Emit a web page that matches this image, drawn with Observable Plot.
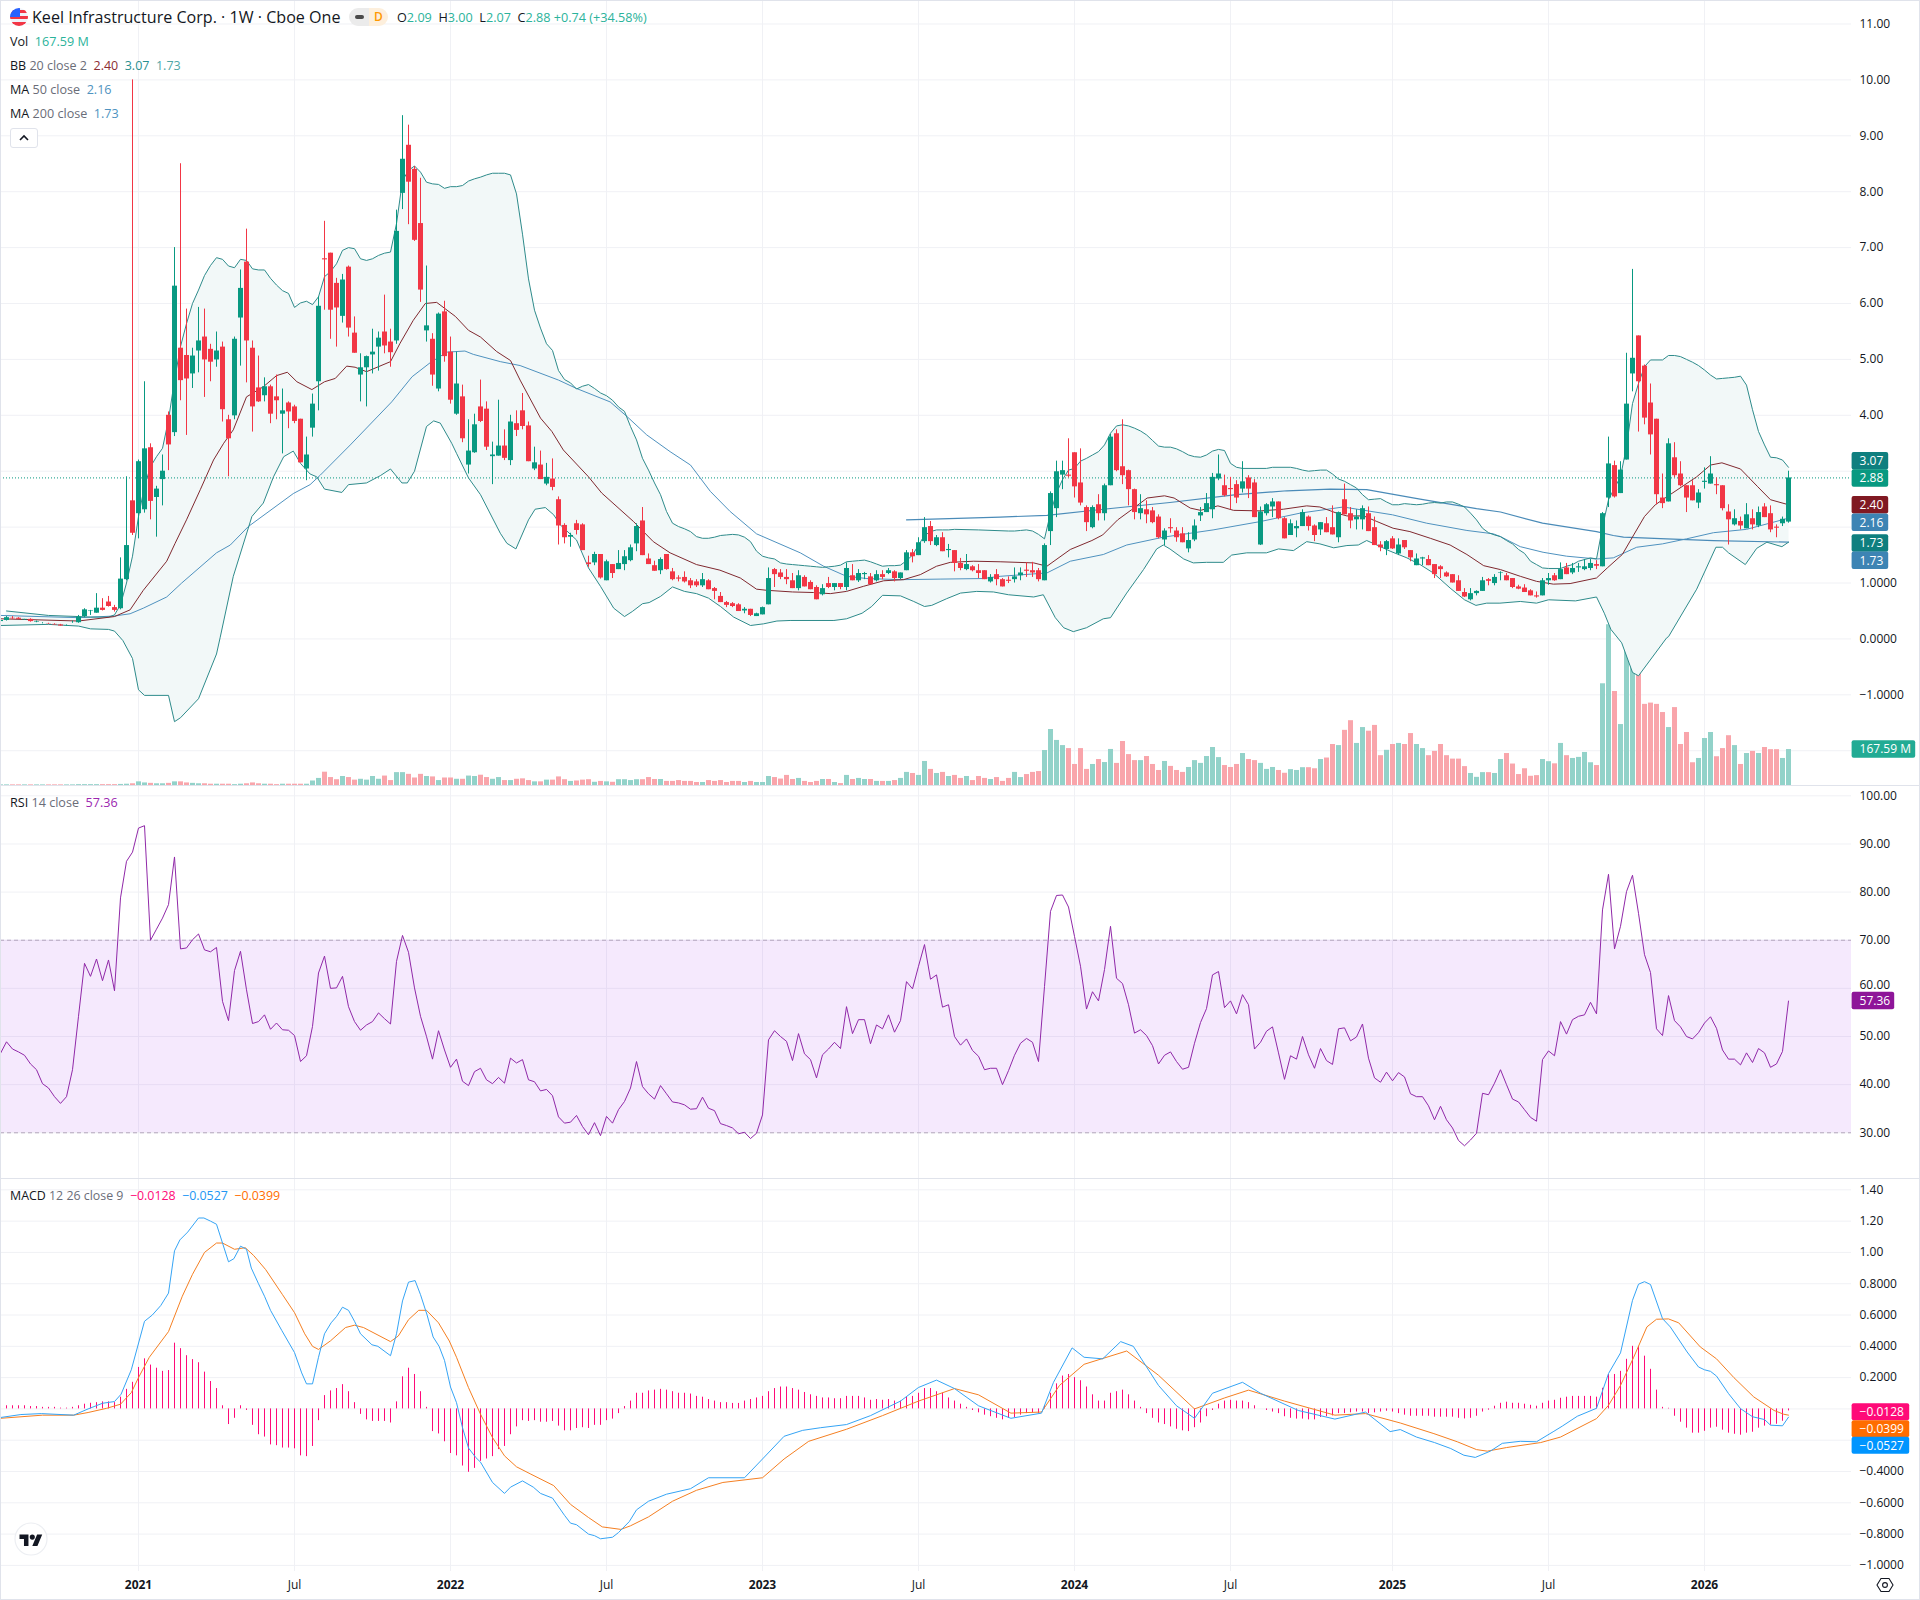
<!DOCTYPE html>
<html><head><meta charset="utf-8">
<script src="https://cdn.jsdelivr.net/npm/d3@7"></script>
<script src="https://cdn.jsdelivr.net/npm/@observablehq/plot@0.6"></script>
<style>
html,body{margin:0;padding:0;background:#fff}
#chart{position:relative;width:1920px;height:1600px;overflow:hidden;font-family:"Open Sans",sans-serif;color:#131722;background:#fff}
#chart svg.plot{position:absolute;left:0}
.t{position:absolute;white-space:pre;font-size:12.6px;line-height:16px;color:#131722}
.g{color:#6a6d78}
.sep{position:absolute;left:0;width:1920px;height:1px;background:#e0e3eb}
</style></head><body><div id="chart"></div>
<script>
// week index 0 = first bar of 2021; the first bar shown is index -23
const firstWeek = -23;
const opens = [
.31,.33,.37,.37,.34,.35,.30,.28,.27,.26,
.25,.235,.29,.29,.40,.49,.46,.55,.66,.56,
.54,1.06,2.47,2.24,2.31,3.42,2.53,2.85,4.0,3.69,
5.2,5.07,4.74,5.15,5.4,5.18,4.99,5.22,3.92,3.99,
5.74,6.74,5.2,4.49,4.35,4.51,4.33,4.02,4.22,4.15,
3.93,3.04,3.77,4.6,6.8,6.9,6.36,5.77,6.65,5.47,
4.72,4.85,5.08,5.22,5.49,5.31,5.33,7.97,8.83,8.4,
7.43,5.51,5.36,4.47,5.85,5.13,4.02,4.33,3.11,3.33,
4.15,4.11,3.26,3.27,3.45,3.19,3.85,4.08,3.81,3.04,
3.11,2.77,2.86,2.49,2.03,1.82,2.06,2.04,1.36,1.36,
1.51,1.04,1.33,1.24,1.33,1.4,1.7,2.11,1.43,1.31,
1.22,1.51,1.2,1.09,1.1,1.04,1.02,.95,1.04,.9,
.76,.65,.63,.61,.5,.53,.4,.43,.61,1.24,
1.18,1.1,1.04,.9,1.1,1.01,.92,.79,.99,.92,
.99,.92,1.13,1.04,1.15,1.11,1.04,1.15,1.17,1.2,
1.08,1.22,1.54,1.49,1.74,2.01,1.67,1.81,1.58,1.58,
1.35,1.24,1.29,1.22,1.22,1.02,1.15,1.06,1.05,1.06,
1.13,1.23,1.22,1.22,1.04,1.92,2.33,2.93,2.93,3.33,
2.79,2.35,1.99,2.4,2.24,2.74,3.67,3.08,3.01,2.67,
2.24,2.31,2.29,2.18,1.77,1.99,1.93,1.88,1.61,1.77,
2.2,2.26,2.31,2.86,2.74,2.69,2.76,2.68,2.88,2.79,
1.68,2.24,2.36,2.45,2.15,1.85,1.97,2.01,2.18,2.02,
1.95,2.06,1.99,1.81,2.49,2.24,2.13,2.13,2.24,1.99,
1.68,1.6,1.79,1.52,1.76,1.58,1.31,1.43,1.42,1.33,
1.29,1.18,1.15,1.04,.83,.7,.81,.85,1.06,.99,
1.17,1.13,1.08,.93,.91,.86,.77,.77,1.04,1.13,
1.06,1.27,1.18,1.27,1.24,1.26,1.33,1.29,2.52,3.1,
2.6,3.2,4.74,5.42,4.88,4.22,3.93,2.52,2.45,3.24,
2.95,2.74,2.74,2.43,2.8,2.77,2.76,2.74,2.27,2.04,
2.1,1.97,2.15,2.02,2.36,2.24,2.0,2.06,2.09];
const highs = [
.33,.40,.40,.38,.35,.36,.32,.29,.28,.27,
.26,.25,.32,.42,.54,.51,.81,.72,.76,.60,
1.45,2.90,10.0,3.2,4.6,3.49,2.73,3.29,4.06,7.0,
8.5,5.9,5.2,5.93,5.9,5.27,5.49,5.31,4.0,5.4,
6.6,7.33,5.33,5.06,4.67,4.54,4.72,4.47,4.24,4.18,
3.93,3.61,4.38,6.12,7.47,6.9,6.45,6.52,6.67,5.76,
5.1,5.06,5.54,5.49,6.15,5.54,7.67,9.36,9.19,8.45,
8.24,6.67,5.46,5.83,6.04,5.4,5.13,4.54,3.92,4.02,
4.63,4.24,3.52,4.27,3.74,4.0,4.08,4.39,3.88,3.43,
3.36,3.14,3.22,2.54,2.06,1.89,2.12,2.06,1.48,1.55,
1.51,1.41,1.33,1.58,1.58,1.68,2.06,2.35,1.52,1.39,
1.45,1.51,1.26,1.13,1.2,1.08,1.06,1.17,1.06,.92,
.83,.67,.65,.63,.56,.53,.46,.57,1.27,1.26,
1.24,1.24,1.17,1.22,1.13,1.04,.95,.97,1.1,.99,
.99,1.36,1.33,1.24,1.19,1.17,1.22,1.22,1.26,1.22,
1.18,1.58,1.6,1.81,2.17,2.1,1.85,1.9,1.69,1.58,
1.44,1.51,1.31,1.33,1.22,1.15,1.24,1.08,1.11,1.27,
1.27,1.36,1.37,1.26,1.7,2.63,3.18,3.18,3.58,3.33,
3.4,2.38,2.38,2.58,2.77,3.66,3.74,3.92,3.02,2.68,
2.58,2.47,2.35,2.22,1.97,2.15,1.99,1.99,1.9,2.13,
2.35,2.6,2.96,3.29,2.93,2.89,2.83,3.17,2.92,2.85,
2.36,2.42,2.51,2.45,2.17,2.13,2.11,2.31,2.2,2.04,
2.08,2.17,2.38,2.27,2.77,2.35,2.31,2.38,2.36,2.18,
1.74,1.76,1.83,1.79,1.76,1.58,1.52,1.46,1.49,1.33,
1.31,1.2,1.15,1.13,.9,.9,.86,1.1,1.08,1.15,
1.2,1.17,1.08,.96,.97,.88,.84,1.08,1.17,1.17,
1.36,1.35,1.35,1.35,1.42,1.42,1.4,2.26,3.61,3.18,
3.17,5.11,6.61,5.42,4.9,4.56,3.93,2.95,3.58,3.51,
3.17,2.74,2.83,2.67,3.06,3.26,2.88,2.74,2.4,2.31,
2.18,2.42,2.31,2.36,2.42,2.38,2.04,2.18,3.0];
const lows = [
.30,.32,.35,.35,.33,.30,.29,.27,.26,.25,
.23,.23,.28,.28,.38,.42,.46,.50,.57,.48,
.52,1.04,1.85,1.79,2.25,2.13,1.82,2.38,3.01,3.62,
4.26,3.64,4.48,4.76,4.32,4.6,4.86,3.88,2.9,3.92,
4.88,4.58,3.7,4.23,4.24,3.85,3.92,3.31,3.76,3.85,
3.15,2.83,3.61,4.08,5.88,5.36,5.22,5.65,5.4,5.11,
4.24,4.15,4.74,4.79,5.1,4.86,5.27,7.68,7.41,7.11,
6.02,5.31,4.52,4.42,4.95,4.2,4.0,3.51,2.95,3.32,
3.87,3.37,2.76,3.27,3.19,3.1,3.62,3.74,3.17,3.01,
2.85,2.74,2.65,1.68,1.7,1.64,1.86,1.58,1.28,1.31,
1.07,1.04,1.08,1.24,1.22,1.38,1.56,1.49,1.33,1.21,
1.15,1.23,1.04,1.02,1.0,.9,.92,.92,.88,.7,
.65,.56,.56,.49,.45,.4,.4,.43,.61,.92,
1.06,.97,.9,.86,.93,.88,.7,.77,.9,.86,
.88,.86,1.04,1.01,1.06,.97,1.02,1.06,1.15,1.02,
1.06,1.22,1.36,1.49,1.71,1.67,1.65,1.56,1.45,1.2,
1.22,1.22,1.2,1.08,1.06,1.0,.95,.93,.99,1.0,
1.04,1.1,1.1,1.02,1.04,1.67,2.17,2.67,2.88,2.52,
2.38,1.92,1.97,2.11,2.11,2.74,2.99,2.76,2.38,2.13,
2.13,2.06,2.06,1.79,1.67,1.89,1.73,1.72,1.54,1.74,
2.1,2.26,2.15,2.83,2.54,2.31,2.42,2.61,2.51,2.17,
1.67,2.2,2.17,2.13,1.79,1.85,1.81,2.01,1.93,1.74,
1.85,1.9,1.86,1.72,2.22,1.97,1.95,1.95,1.92,1.67,
1.56,1.49,1.6,1.49,1.6,1.38,1.31,1.31,1.31,1.08,
1.08,1.1,1.0,.85,.74,.68,.77,.85,.95,.95,
1.04,1.04,.9,.88,.83,.77,.73,.77,.96,1.03,
1.06,1.15,1.15,1.19,1.22,1.22,1.24,1.29,2.35,2.52,
2.6,3.2,4.42,3.7,3.83,3.29,2.4,2.33,2.45,2.88,
2.72,2.26,2.47,2.33,2.68,2.77,2.58,2.29,1.68,2.02,
1.95,1.97,1.95,1.99,2.17,1.9,1.81,2.01,2.07];
const closes = [
.33,.38,.36,.35,.35,.31,.31,.28,.265,.25,
.23,.24,.29,.39,.52,.50,.55,.51,.58,.51,
1.07,1.67,1.89,3.17,3.40,2.46,2.68,3.0,3.47,6.31,
4.62,4.65,5.06,5.33,4.99,4.95,5.15,4.1,3.58,5.36,
6.27,5.33,4.15,4.24,4.51,4.02,4.26,4.08,4.06,3.89,
3.15,3.29,4.2,5.95,6.78,5.88,5.92,6.42,5.56,5.11,
4.85,5.05,5.13,5.38,5.24,5.12,7.29,8.58,8.17,7.13,
6.24,5.6,4.72,5.81,5.05,4.27,4.56,3.58,3.36,3.83,
3.89,3.43,3.29,3.45,3.23,3.88,3.73,3.8,3.17,3.15,
2.85,2.89,2.71,2.02,1.81,1.85,1.94,1.58,1.33,1.51,
1.09,1.38,1.17,1.35,1.47,1.63,2.01,1.49,1.33,1.21,
1.42,1.24,1.06,1.07,1.02,.95,.95,1.06,.88,.85,
.65,.6,.58,.49,.53,.42,.45,.56,1.08,1.15,
1.1,1.06,.9,1.13,.93,.88,.7,.9,.92,.99,
.92,1.26,1.04,1.17,1.17,.97,1.15,1.1,1.22,1.08,
1.18,1.54,1.47,1.72,1.99,1.74,1.81,1.56,1.6,1.35,
1.26,1.33,1.22,1.17,1.06,1.1,1.06,.93,1.03,1.11,
1.18,1.21,1.18,1.06,1.67,2.6,2.99,3.01,2.91,2.72,
2.43,2.08,2.35,2.24,2.74,3.61,3.01,2.92,2.67,2.26,
2.33,2.22,2.08,1.81,1.93,1.97,1.81,1.72,1.76,2.02,
2.26,2.42,2.89,2.95,2.56,2.67,2.52,2.81,2.68,2.17,
2.27,2.4,2.45,2.15,1.79,2.06,2.01,2.26,2.01,1.85,
2.08,1.9,1.86,2.26,2.22,2.11,2.18,2.33,1.92,1.67,
1.63,1.74,1.61,1.68,1.63,1.45,1.43,1.45,1.31,1.15,
1.24,1.11,1.0,.85,.75,.81,.85,1.04,1.03,1.1,
1.18,1.04,.92,.89,.83,.77,.75,1.04,1.08,1.04,
1.24,1.15,1.26,1.29,1.29,1.35,1.3,2.24,3.13,2.54,
3.02,4.2,5.02,4.6,3.95,3.65,2.58,2.42,3.49,2.92,
2.74,2.52,2.47,2.61,2.82,2.95,2.74,2.33,2.13,2.15,
2.02,2.22,2.04,2.26,2.17,1.95,1.98,2.14,2.88];
const volumes = [ // millions
3,3,3,3,3,3,3,3,3,3,
3,3,3,4,4,4,4,4,4,4,
5,6,8,17,12,10,8,8,10,17,
17,12,10,8,8,6,6,6,6,4,
6,8,12,8,6,6,4,6,6,6,
6,6,21,33,62,37,27,42,37,25,
29,25,42,29,44,23,60,60,52,35,
52,42,40,23,35,35,29,29,44,42,
48,37,29,37,23,23,29,31,23,17,
17,25,25,40,27,19,21,25,27,15,
19,17,15,27,27,23,27,27,37,28,
28,19,19,23,19,19,14,14,23,19,
23,14,19,19,14,19,14,14,42,37,
30,47,28,33,19,14,19,28,28,14,
9,47,28,33,28,28,19,19,19,23,
33,61,56,47,112,75,56,61,42,47,
33,42,23,42,33,28,37,19,33,61,
37,51,61,65,163,261,210,186,172,98,
172,75,98,121,107,168,103,205,144,116,
116,135,98,70,112,89,70,61,84,116,
103,135,177,130,93,84,98,149,121,116,
103,75,84,70,57,74,70,83,83,78,
121,128,191,186,257,302,196,270,253,280,
139,164,191,196,191,242,191,172,139,159,
191,139,123,123,88,56,38,60,60,56,
121,149,100,51,78,43,46,121,111,101,
196,139,126,131,154,106,93,474,749,438,
284,662,914,564,378,384,378,340,270,363,
191,247,106,126,219,247,134,172,232,186,
98,149,159,149,177,167,167,126,167.59];
const bbUpper = [[-22,.5],[-15,.42],[-10,.4],[-8,.39],[-5,.39],[-4,.43],[-3,.61],[-2,1],[-1,1.48],[0,2.19],[1,2.73],[2,3.08],[3,3.26],[4,3.41],[5,3.92],[6,4.63],[7,5.23],[8,5.64],[9,6],[10,6.24],[11,6.5],[12,6.68],[13,6.82],[14,6.79],[15,6.67],[16,6.64],[17,6.79],[18,6.77],[19,6.62],[20,6.6],[21,6.6],[22,6.45],[23,6.33],[24,6.23],[25,6.18],[26,5.93],[27,6.01],[28,6.04],[29,5.98],[30,6.12],[31,6.48],[32,6.57],[33,6.71],[34,6.95],[35,7],[36,6.98],[37,6.8],[38,6.77],[39,6.8],[40,6.86],[41,6.9],[42,6.92],[43,7.43],[44,8.2],[45,8.38],[46,8.46],[47,8.35],[48,8.17],[49,8.14],[50,8.13],[51,8.06],[52,8.09],[53,8.09],[54,8.11],[55,8.19],[56,8.23],[57,8.26],[58,8.3],[59,8.33],[60,8.33],[61,8.33],[62,8.3],[63,7.96],[64,7.24],[65,6.44],[66,5.88],[67,5.56],[68,5.28],[69,5.16],[70,4.8],[71,4.64],[72,4.58],[73,4.47],[74,4.52],[75,4.55],[76,4.48],[77,4.4],[78,4.35],[79,4.27],[80,4.15],[81,4.07],[82,3.8],[83,3.56],[84,3.23],[85,3.02],[86,2.79],[87,2.58],[88,2.28],[89,2.07],[90,2.01],[91,1.97],[92,1.92],[93,1.83],[94,1.8],[95,1.8],[96,1.82],[97,1.85],[98,1.86],[99,1.87],[100,1.86],[101,1.82],[102,1.74],[103,1.57],[104,1.48],[105,1.45],[106,1.43],[107,1.36],[108,1.34],[109,1.33],[110,1.32],[111,1.31],[112,1.3],[113,1.29],[114,1.28],[115,1.29],[116,1.3],[117,1.32],[118,1.38],[119,1.39],[120,1.4],[121,1.41],[122,1.38],[123,1.34],[124,1.3],[125,1.31],[126,1.31],[127,1.32],[128,1.4],[129,1.5],[130,1.68],[131,1.85],[132,1.92],[133,1.95],[134,1.95],[135,1.95],[136,1.96],[140,1.95],[145,1.93],[146,1.93],[147,1.94],[148,1.95],[149,1.93],[150,1.87],[151,1.79],[152,2.25],[153,2.61],[154,2.85],[155,3.02],[156,3.05],[157,3.18],[158,3.23],[159,3.29],[160,3.35],[161,3.47],[162,3.68],[163,3.81],[164,3.83],[165,3.81],[166,3.77],[167,3.72],[168,3.65],[169,3.55],[170,3.45],[171,3.43],[172,3.43],[173,3.4],[174,3.35],[175,3.29],[176,3.26],[177,3.25],[178,3.29],[179,3.36],[180,3.39],[181,3.37],[182,3.14],[183,3.07],[184,3.05],[188,3.05],[189,3.07],[192,3.07],[193,3.05],[194,3.02],[195,3],[196,3.01],[197,3.02],[198,3.02],[199,2.95],[200,2.86],[201,2.82],[202,2.76],[203,2.7],[204,2.58],[205,2.49],[206,2.5],[207,2.51],[208,2.45],[209,2.4],[210,2.4],[211,2.42],[212,2.41],[213,2.4],[214,2.41],[215,2.43],[216,2.44],[217,2.43],[218,2.45],[219,2.45],[220,2.41],[221,2.36],[222,2.25],[223,2.13],[224,1.98],[225,1.9],[226,1.86],[227,1.83],[228,1.76],[229,1.7],[230,1.6],[231,1.53],[232,1.39],[233,1.33],[234,1.27],[235,1.26],[237,1.26],[238,1.3],[239,1.33],[240,1.39],[241,1.42],[242,1.45],[243,1.43],[244,2],[245,2.49],[246,2.7],[247,2.9],[248,3.44],[249,4.21],[250,4.57],[251,4.87],[252,4.99],[254,4.99],[255,5.07],[256,5.07],[257,5.05],[258,5],[259,4.95],[260,4.89],[261,4.81],[262,4.72],[263,4.65],[264,4.66],[265,4.67],[266,4.68],[267,4.7],[268,4.54],[269,4.1],[270,3.71],[271,3.47],[272,3.25],[273,3.24],[274,3.2],[275,3.07]];
const bbBasis = [[-23,.36],[-10,.32],[-4,.4],[-1.4,.52],[.8,.87],[4.7,1.39],[6.1,1.71],[8,2.13],[10.3,2.67],[12.5,3.2],[14.2,3.5],[15.8,3.74],[18,4.33],[20.8,4.51],[23,4.71],[24.8,4.77],[26.4,4.6],[28.9,4.46],[31,4.6],[32.8,4.66],[34.7,4.88],[36.1,4.86],[38,4.78],[42,4.96],[43.6,5.29],[45.8,5.7],[47.8,6],[49.7,6.02],[52.8,5.77],[55,5.52],[57,5.4],[59.7,5.14],[62,4.98],[63.6,4.63],[67,3.95],[68.9,3.71],[70.8,3.38],[75,2.9],[77.2,2.61],[82.5,2.1],[85.8,1.74],[88.6,1.54],[93,1.33],[96.9,1.23],[100.3,1.09],[103,.89],[104.7,.87],[109,.84],[112.5,.83],[115.3,.81],[118,.85],[120.8,.94],[124.2,1.04],[127.5,1.06],[130.3,1.15],[133,1.3],[135.3,1.37],[139.2,1.39],[143.6,1.38],[149.2,1.36],[151.4,1.3],[155.3,1.6],[158.9,1.76],[160.7,1.86],[163.2,2.13],[165.5,2.31],[168.1,2.52],[171,2.56],[172.6,2.52],[175.3,2.34],[177,2.3],[179.9,2.38],[182.5,2.3],[187,2.29],[190.8,2.32],[194.7,2.38],[196.9,2.36],[199.7,2.25],[201.4,2.2],[204.2,2.2],[206.4,2.1],[209.1,1.98],[211.9,1.92],[215.3,1.8],[218.6,1.68],[221.4,1.51],[224.2,1.31],[227,1.24],[230.3,1.12],[233,1.03],[235.8,.98],[238.6,.99],[243,1.09],[244.8,1.27],[247.3,1.51],[249.2,1.86],[251,2.19],[252.8,2.4],[254.7,2.54],[259.7,2.9],[262,3.11],[263.9,3.15],[267,3.04],[269.8,2.73],[272,2.49],[275,2.4]];
const bbLower = [[-23,.24],[-15,.26],[-10,.23],[-8,.18],[-5,.17],[-4,.14],[-2.6,-.03],[-1,-.35],[0,-.91],[1,-1.01],[5,-1.01],[6,-1.48],[7,-1.41],[10,-1.07],[13,-.27],[13.6,.02],[15.8,1.12],[18.9,2.19],[20.8,2.43],[22.5,2.9],[24.2,3.26],[25.8,3.36],[27,3.14],[28.6,2.95],[29.7,2.9],[31,2.68],[33.9,2.62],[35,2.76],[38,2.79],[40.3,2.92],[42,3.04],[43.9,2.79],[44.8,2.79],[46,3],[48,3.8],[49.2,3.9],[50.3,3.86],[52.2,3.5],[53,3.32],[55,2.88],[57,2.58],[60.3,1.89],[61.4,1.71],[62.9,1.61],[65,2.13],[66.1,2.32],[67.8,2.35],[69.2,2.22],[70.3,2.04],[73,1.77],[75,1.27],[77,.94],[79.2,.55],[81,.4],[82.3,.49],[84,.63],[85.1,.65],[87,.76],[89,.93],[91,.85],[93,.81],[95,.73],[97,.58],[99.2,.39],[102,.24],[104.2,.27],[106.4,.32],[108.6,.33],[115.9,.33],[118,.36],[120.6,.46],[122.2,.58],[124,.78],[127,.77],[129.2,.67],[131,.58],[132.2,.6],[134.7,.72],[137,.82],[139.7,.85],[142.5,.84],[145,.79],[149.2,.75],[150.8,.79],[152.8,.38],[154.2,.2],[155.8,.13],[158,.2],[160.8,.36],[162,.38],[164.7,.82],[167.5,1.24],[169.7,1.61],[170.8,1.68],[171.9,1.61],[174.2,1.43],[175.8,1.36],[178,1.37],[180.8,1.37],[182.2,1.5],[184.7,1.54],[188,1.54],[190,1.61],[192.5,1.58],[194.7,1.74],[196.9,1.7],[199.2,1.63],[201.4,1.67],[203.3,1.68],[204.7,1.76],[206.4,1.68],[208.6,1.57],[211.4,1.45],[213.6,1.33],[215.8,1.18],[218.6,.91],[221,.7],[222.9,.6],[224.7,.64],[226.9,.64],[230.3,.67],[233,.64],[235,.7],[239.5,.68],[243,.75],[244.3,.46],[245.4,.17],[247.2,-.07],[249,-.6],[250,-.66],[254.7,.02],[255,.04],[259.7,.89],[262.9,1.64],[264,1.64],[265,1.54],[267.8,1.33],[269.7,1.62],[271.4,1.73],[273.9,1.65],[275,1.73]];
const ma50 = [[-23,.42],[-10,.38],[-4,.41],[-1.4,.45],[.8,.55],[4.7,.75],[7.2,1],[13,1.54],[15.3,1.68],[18.3,2.01],[25.8,2.6],[28.6,2.76],[30.3,2.93],[35.3,3.47],[42.2,4.24],[45.6,4.69],[48.6,4.94],[51.4,5.13],[54.4,5.15],[55.8,5.09],[60.3,4.96],[63.6,4.89],[70,4.63],[73,4.48],[78.6,4.24],[81.4,3.98],[84.7,3.65],[88.6,3.35],[92,3.11],[95.3,2.64],[98.6,2.28],[103,1.88],[110.3,1.54],[114.2,1.3],[118,1.12],[121.4,1.08],[127,1.06],[133.6,1.07],[140.8,1.08],[143.6,1.12],[151.4,1.18],[155.3,1.39],[160.8,1.51],[164.7,1.68],[170.8,1.82],[179.1,1.95],[187,2.1],[193.6,2.25],[200.8,2.36],[209,2.22],[214.7,2.07],[221.4,1.94],[225.8,1.88],[227,1.83],[230.3,1.65],[234.1,1.55],[238,1.48],[243,1.43],[245.8,1.45],[249.7,1.64],[254,1.7],[258,1.79],[262.5,1.9],[268,1.96],[275,2.16]];
const ma200 = [[128,2.13],[143.6,2.18],[151.4,2.21],[160.8,2.32],[171.9,2.44],[183,2.58],[191.4,2.65],[198.6,2.68],[204.7,2.67],[213.6,2.5],[223,2.33],[227,2.27],[234,2.07],[243,1.92],[245.8,1.85],[247.5,1.82],[254.7,1.79],[262.5,1.76],[275,1.73]];
const rsi = [
46.5,48.9,47.4,46.8,46.1,44.3,43.1,40.2,39.3,37.5,
36.1,37.5,43.1,54.2,65.2,62.5,66.1,61.6,65.9,59.5,
78.8,86.4,88.3,93.3,93.8,70,72.3,74.6,77.4,87.3,
68.2,68.4,70.1,71.3,68,67.6,68.5,57.3,53.3,63.7,
67.7,59.7,52.7,53.1,54.5,51.5,52.8,51.4,51.3,50.2,
44.8,46,52.1,63.2,66.7,60,60.1,62.5,56.2,53.1,
51.3,52.4,53.1,54.9,53.7,52.6,65.6,71,67.5,60.1,
54.2,50,45.3,51.2,47.2,43.6,45.3,40.7,39.8,42.7,
43.4,41,40.2,41.5,40.3,45.5,44.5,45.2,41,40.6,
38.7,39,37.7,33.3,32,32.2,33.6,31.3,29.6,32.1,
29.4,33.4,32,34.8,36.5,39.3,44.8,39.6,38.1,37,
39.8,38.1,36.4,36.2,35.8,34.9,35,37.4,35.1,34.6,
31.9,31.5,31,29.8,30.1,28.8,29.9,33.7,49.3,51.2,
50,49,45,50.6,46.4,45.2,41.4,46.2,47.4,48.8,
47.5,56.2,50.6,53.5,53.5,48.5,52.4,51.6,54.5,50.9,
53.3,61.4,59.9,64.6,69.1,61.9,62.8,56.1,56.6,50,
48.2,49.5,47.1,45.9,43.1,43.4,43.4,40,42.9,46.1,
48.6,49.6,48.8,44.8,60.4,76,79.3,79.4,76.9,70.8,
64.6,55.7,59.3,57.4,63.9,72.9,62.1,61,56.6,50.7,
51.4,50.2,48.1,44.3,46.1,46.8,44.8,43.2,43.6,48.6,
52.9,55.8,62.8,63.5,56,57.4,54.7,58.7,56.6,47.4,
48.8,51.1,52,46.6,41.1,46,45.3,50,46.2,43.4,
47.5,45,44.2,51.6,51.8,49.1,49.9,52.6,45.5,41.4,
40.5,42.6,40.8,42.5,41.6,38.1,37.5,37.5,35.6,32.7,
35.5,32.7,31,28.4,27.3,28.5,29.9,38.2,37.9,40.3,
43.1,40,37,36.4,34.8,33.2,32.4,45.2,47,46,
53.1,50.5,53.5,54.2,54.5,57.1,54.7,76.3,83.7,68.2,
72.9,80.1,83.5,75.6,67,63.3,51.6,50.2,58.5,53.3,
52,50,49.5,50.8,52.8,54.1,51.7,47.2,45.3,45.3,
44.1,46.6,44.6,47.5,46.6,43.6,44.3,46.9,57.36];
const macdHist = [
0,.02,.02,.02,.02,.015,.015,.01,.01,.01,
.005,.005,.01,.02,.03,.036,.04,.045,.045,.04,
.075,.125,.17,.265,.32,.28,.26,.24,.245,.42,
.385,.34,.315,.295,.235,.175,.13,.02,-.1,-.06,
.02,-.01,-.105,-.165,-.18,-.23,-.235,-.25,-.25,-.255,
-.3,-.305,-.24,-.075,.085,.115,.13,.155,.11,.04,
-.035,-.07,-.08,-.08,-.08,-.09,.045,.205,.26,.22,
.11,.01,-.145,-.16,-.21,-.285,-.3,-.365,-.405,-.38,
-.335,-.32,-.305,-.26,-.24,-.165,-.115,-.075,-.08,-.075,
-.085,-.085,-.08,-.11,-.14,-.14,-.125,-.12,-.125,-.105,
-.105,-.075,-.065,-.03,.015,.05,.1,.10,.115,.12,
.125,.12,.11,.1,.1,.095,.08,.075,.06,.05,
.04,.04,.035,.035,.05,.06,.07,.08,.11,.13,
.14,.14,.13,.12,.105,.09,.08,.07,.07,.065,
.065,.08,.08,.08,.07,.055,.06,.055,.06,.05,
.05,.075,.08,.1,.13,.13,.11,.1,.07,.05,
.03,.01,-.01,-.025,-.04,-.05,-.06,-.07,-.06,-.055,
-.04,-.03,-.025,-.03,.02,.1,.16,.21,.22,.2,
.18,.14,.09,.05,.05,.1,.11,.12,.09,.05,
.01,-.03,-.06,-.09,-.1,-.115,-.13,-.14,-.145,-.12,
-.09,-.05,-.01,.03,.05,.055,.05,.05,.04,.02,
0,-.01,-.02,-.03,-.05,-.06,-.065,-.065,-.07,-.07,
-.055,-.05,-.045,-.03,-.03,-.025,-.02,-.02,-.03,-.025,
-.02,-.015,-.02,-.03,-.04,-.047,-.047,-.047,-.047,-.053,
-.053,-.053,-.053,-.06,-.064,-.06,-.047,-.02,-.008,.017,
.036,.043,.036,.036,.03,.023,.017,.036,.05,.055,
.068,.075,.08,.08,.08,.08,.075,.132,.22,.22,
.24,.317,.4,.4,.337,.253,.12,.01,.004,-.047,
-.085,-.123,-.155,-.155,-.143,-.123,-.117,-.136,-.155,-.162,
-.168,-.155,-.149,-.123,-.11,-.104,-.098,-.079,-.0128];
const macdLine = [[-23,-.055],[-19.6,-.036],[-16.2,-.03],[-10.8,-.04],[-8.4,0],[-6,.036],[-4,.047],[-2.9,.094],[-1.2,.25],[1,.56],[2.3,.6],[3.7,.66],[5,.74],[6,1.01],[6.9,1.08],[8.2,1.13],[10,1.22],[10.9,1.22],[12,1.2],[13,1.18],[14,1.06],[15,.94],[15.9,.96],[17,1.04],[18,1.02],[18.8,.9],[20,.8],[21,.72],[22,.63],[23.9,.5],[26,.36],[27.2,.23],[28,.16],[29,.16],[30,.33],[31,.48],[32.1,.55],[33,.59],[34,.65],[35,.63],[36,.56],[37,.48],[38.9,.41],[39.9,.4],[42,.34],[43,.48],[44,.69],[45,.81],[46.1,.82],[47,.73],[48.1,.6],[49.1,.46],[50.1,.4],[51,.31],[52,.14],[53,.04],[54,-.12],[55,-.25],[56.2,-.31],[57,-.34],[59,-.47],[61,-.54],[62,-.5],[64,-.46],[65.8,-.5],[67,-.54],[69,-.57],[71,-.68],[72,-.73],[73,-.74],[75,-.8],[76,-.81],[77,-.83],[79,-.82],[80,-.79],[81.8,-.72],[83,-.645],[85,-.59],[88,-.545],[92,-.51],[95,-.44],[101,-.44],[104,-.32],[107.6,-.175],[110.7,-.137],[113.7,-.12],[118,-.1],[122,-.043],[127,.05],[130,.137],[133,.184],[136,.13],[140,.02],[145.4,-.06],[150.5,-.027],[152.5,.17],[155.6,.39],[157.6,.33],[160.7,.32],[163.7,.43],[165.8,.4],[170,.15],[173,.02],[176,-.06],[179,.1],[184,.17],[187,.1],[193.3,-.01],[199.4,-.065],[204.5,-.02],[208.6,-.145],[210.3,-.132],[213,-.18],[216,-.215],[218.7,-.253],[220.9,-.296],[222.8,-.31],[225.3,-.27],[227.3,-.22],[230.3,-.207],[233,-.21],[235.9,-.143],[237.3,-.11],[239.8,-.047],[243,.004],[245,.226],[247,.358],[249,.694],[250,.797],[251,.813],[252,.795],[254,.577],[255.3,.524],[258.1,.364],[260,.268],[261,.25],[262,.24],[263,.21],[265,.098],[267,.002],[269,-.05],[271,-.068],[272,-.104],[274,-.108],[275,-.0527]];
const macdSignal = [[-23,-.06],[-16,-.04],[-10.8,-.04],[-8.4,-.023],[-5.3,.004],[-3,.03],[-1.2,.104],[0,.2],[1.8,.33],[5,.494],[7.3,.72],[9,.86],[11,1],[13,1.06],[14,1.06],[16,1.02],[17.8,1.03],[19.2,.98],[21.2,.89],[24,.73],[26,.615],[27.7,.48],[29,.4],[30,.38],[32,.435],[34.5,.52],[36,.535],[37.5,.52],[42,.43],[43.3,.466],[45,.57],[46.7,.63],[48,.63],[50,.55],[51.8,.434],[53,.33],[55,.136],[57,-.034],[59,-.183],[61,-.3],[63,-.37],[65.4,-.417],[69.2,-.49],[72,-.61],[75,-.694],[77.3,-.754],[80.4,-.77],[82,-.747],[85,-.69],[89,-.59],[93,-.52],[97.4,-.47],[104,-.44],[107.6,-.32],[111.7,-.207],[118,-.13],[124,-.043],[130,.05],[136,.13],[140,.09],[145.4,-.027],[150.5,-.02],[153.5,.15],[157.6,.285],[164.7,.37],[170,.215],[176,0],[181,.07],[185,.12],[191,.05],[199.4,-.04],[204.5,-.03],[210.3,-.09],[215.9,-.158],[219.8,-.21],[223,-.26],[224.8,-.27],[228,-.247],[233.7,-.215],[237,-.18],[243,-.062],[245,.023],[247,.15],[249.2,.33],[251.4,.524],[253,.573],[255,.575],[256.7,.55],[260.3,.396],[263,.32],[265.9,.2],[269.2,.077],[272.6,-.01],[274.2,-.034],[275,-.0399]];
const gridWeeks = [0,26,52,78,104,130,156,182,209,235,261];
const yearWeeks = [0,52,104,156,209,261];
const yearLabels = ["2021","2022","2023","2024","2025","2026"];
const monthWeeks = [26,78,130,182,235];
const priceTicks = [11,10,9,8,7,6,5,4,3,2,1,0,-1,-2];
const priceLabels = [11,10,9,8,7,6,5,4,1,0,-1];   // 3, 2 and -2 sit under the value tags
const rsiTicks = [100,90,80,70,60,50,40,30];
const rsiLabels = [100,90,80,70,50,40,30];        // 60 sits under the 57.36 tag
const macdTicks = [1.4,1.2,1,.8,.6,.4,.2,0,-.2,-.4,-.6,-.8,-1];
const macdLabels = [1.4,1.2,1,.8,.6,.4,.2,-.4,-.6,-.8,-1]; // 0 and -0.2 sit under the tags

const UP="#089981", DOWN="#F23645", GRID="#f0f1f5", FONT='"Open Sans",sans-serif';
const xDomain=[-23,285.5], rightMargin=69;
const tagLeft=285.6, tagText=286.85;
const volumePerPrice=260.5, priceFloor=-2.622;
const minus=s=>s.replace("-","\u2212");
const longFmt=v=>minus(v.toFixed(4));

const bars = closes.map((c,i)=>({k:i+firstWeek,o:opens[i],h:highs[i],l:lows[i],c,v:volumes[i],rsi:rsi[i],hist:macdHist[i],up:c>=opens[i]}));
const base = {width:1920,marginLeft:0,marginRight:rightMargin,marginTop:0,marginBottom:0,
  x:{domain:xDomain,axis:null,label:null},
  style:{background:"transparent",fontFamily:FONT,fontSize:"12px",color:"#131722",overflow:"visible"}};
const grids = ()=>Plot.gridX(gridWeeks,{stroke:GRID,strokeOpacity:1});
const bodyL=d=>d.k-1/3, bodyR=d=>d.k+1/2;
const tagMarks = (tags,half)=>tags.flatMap(t=>[
  Plot.rect([t],{x1:tagLeft,x2:t.right,y1:t.value-half,y2:t.value+half,dy:t.shift,fill:t.color,rx:2}),
  Plot.text([t],{x:tagText,y:t.value,dy:t.shift,text:d=>d.label,textAnchor:"start",fill:"#fff",fontSize:12,fontFamily:FONT})
]);
const xy={x:d=>d[0],y:d=>d[1]};
const bbPoly=[...bbUpper,...bbLower.slice().reverse()];

const volValue=v=>priceFloor+v/volumePerPrice;
const priceTags=[
 {label:"3.07",value:3.07,shift:-6,color:"#0f7f7f",right:291.7},
 {label:"2.88",value:2.88,shift:0.6,color:UP,right:291.7},
 {label:"2.40",value:2.40,shift:0.5,color:"#801922",right:291.7},
 {label:"2.16",value:2.16,shift:4.5,color:"#3d84b4",right:291.7},
 {label:"1.73",value:1.73,shift:1.3,color:"#0f7f7f",right:291.7},
 {label:"1.73",value:1.73,shift:18.6,color:"#3d84b4",right:291.7},
 {label:"167.59 M",value:volValue(167.59),shift:0,color:"#22ab94",right:296.2}];

const pricePlot = Plot.plot({...base,height:785,
  y:{domain:[priceFloor,11.42],axis:null,label:null},
  marks:[
    grids(),
    Plot.gridY(priceTicks,{stroke:GRID,strokeOpacity:1}),
    Plot.axisY(priceLabels,{anchor:"right",tickSize:0,tickPadding:8,fill:"#131722",fontSize:12,label:null,tickFormat:v=>v>=2?v.toFixed(2):longFmt(v)}),
    Plot.rect(bars,{x1:bodyL,x2:bodyR,y1:priceFloor,y2:d=>volValue(d.v),fill:d=>d.up?"#92d2c9":"#f9a5ab"}),
    Plot.line(bbPoly,{...xy,fill:"#f2f8f8",stroke:"none"}),
    Plot.ruleY([2.88],{stroke:UP,strokeDasharray:"1,2",strokeWidth:1}),
    Plot.line(ma200,{...xy,stroke:"#4a8bb8",strokeWidth:1.2}),
    Plot.line(ma50,{...xy,stroke:"#4f92bf",strokeWidth:1}),
    Plot.line(bbUpper,{...xy,stroke:"#2e8b8b",strokeWidth:1}),
    Plot.line(bbLower,{...xy,stroke:"#2e8b8b",strokeWidth:1}),
    Plot.line(bbBasis,{...xy,stroke:"#80292f",strokeWidth:1}),
    Plot.ruleX(bars,{x:"k",y1:"l",y2:"h",stroke:d=>d.up?UP:DOWN,strokeWidth:1}),
    Plot.rect(bars,{x1:bodyL,x2:bodyR,y1:"o",y2:"c",fill:d=>d.up?UP:DOWN}),
    ...tagMarks(priceTags,.1565)
  ]});

const rsiPlot = Plot.plot({...base,height:392,
  y:{domain:[20.5,101.94],axis:null,label:null},
  marks:[
    grids(),
    Plot.gridY(rsiTicks,{stroke:GRID,strokeOpacity:1}),
    Plot.rect([{a:30,b:70}],{x1:xDomain[0],x2:xDomain[1],y1:"a",y2:"b",fill:"#9c27f0",fillOpacity:.1}),
    Plot.ruleY([70,30],{stroke:"#b4a6bd",strokeDasharray:"4,3",strokeWidth:1}),
    Plot.axisY(rsiLabels,{anchor:"right",tickSize:0,tickPadding:8,fill:"#131722",fontSize:12,label:null,tickFormat:v=>v.toFixed(2)}),
    Plot.line(bars,{x:"k",y:"rsi",stroke:"#9028a8",strokeWidth:1}),
    ...tagMarks([{label:"57.36",value:57.36,shift:0,color:"#8e1599",right:292.7}],1.82),
    // the 60.00 label shows above the tag in the reference, so it is nudged clear of it
    Plot.axisY([60],{anchor:"right",tickSize:0,tickPadding:8,dy:-3,fill:"#131722",fontSize:12,label:null,tickFormat:v=>v.toFixed(2)})
  ]});

const macdPlot = Plot.plot({...base,height:392,
  y:{domain:[-1.039,1.466],axis:null,label:null},
  marks:[
    grids(),
    Plot.gridY(macdTicks,{stroke:GRID,strokeOpacity:1}),
    Plot.axisY(macdLabels,{anchor:"right",tickSize:0,tickPadding:8,fill:"#131722",fontSize:12,label:null,tickFormat:v=>v>=1?v.toFixed(2):longFmt(v)}),
    Plot.ruleX(bars,{x:"k",y1:0,y2:"hist",stroke:"#ff0a78",strokeWidth:1}),
    Plot.line(macdSignal,{...xy,stroke:"#f57f22",strokeWidth:1}),
    Plot.line(macdLine,{...xy,stroke:"#35a4f5",strokeWidth:1}),
    ...tagMarks([
      {label:"\u22120.0128",value:-.0128,shift:1.3,color:"#ff0a78",right:295.2},
      {label:"\u22120.0399",value:-.0399,shift:14,color:"#ff6d00",right:295.2},
      {label:"\u22120.0527",value:-.0527,shift:28.7,color:"#0095ff",right:295.2}],.0543)
  ]});

const timePlot = Plot.plot({...base,height:30,marginBottom:30,
  marks:[
    Plot.axisX(yearWeeks,{anchor:"bottom",tickSize:0,tickPadding:10,fontWeight:"bold",fill:"#131722",fontSize:12,label:null,
      tickFormat:k=>yearLabels[yearWeeks.indexOf(k)]}),
    Plot.axisX(monthWeeks,{anchor:"bottom",tickSize:0,tickPadding:10,fill:"#131722",fontSize:12,label:null,tickFormat:()=>"Jul"})
  ]});

const root=document.getElementById("chart");
[[pricePlot,0],[rsiPlot,786],[macdPlot,1179],[timePlot,1570]].forEach(([p,top])=>{
  p.classList.add("plot");p.style.top=top+"px";p.style.position="absolute";root.appendChild(p);
});
const green="#2bb39b",bbRed="#8c2d33",bbTeal="#2a8f8f",bbSoft="#4fa6a6",maBlue="#4f93c0";
const html=`
<div class="sep" style="top:785px"></div>
<div class="sep" style="top:1178px"></div>
<div style="position:absolute;inset:0;border:1px solid #e0e3eb;box-sizing:border-box;pointer-events:none"></div>
<svg style="position:absolute;left:10px;top:8px" width="18" height="18" viewBox="0 0 18 18">
 <defs><clipPath id="fc"><circle cx="9" cy="9" r="9"/></clipPath></defs>
 <g clip-path="url(#fc)"><rect width="18" height="18" fill="#f0f3fa"/><rect y="2" width="18" height="3" fill="#f23645"/><rect y="8" width="18" height="3" fill="#f23645"/><rect y="14" width="18" height="4" fill="#f23645"/><rect width="10" height="9" fill="#2962ff"/></g></svg>
<div class="t" style="left:32px;top:7px;font-size:16.1px;line-height:20px">Keel Infrastructure Corp. · 1W · Cboe One</div>
<div style="position:absolute;left:349px;top:8px;width:39px;height:18px;border-radius:9px;overflow:hidden;display:flex">
 <div style="width:20px;background:#ebebeb;position:relative"><div style="position:absolute;left:6px;top:7px;width:9px;height:3.5px;border-radius:2px;background:#4a4a4a"></div></div>
 <div style="width:19px;background:#fdefdc;color:#ff9800;font-size:12px;font-weight:600;text-align:center;line-height:18px">D</div></div>
<div class="t" style="left:397px;top:9px;font-size:12.65px">O<span style="color:${green}">2.09</span>  H<span style="color:${green}">3.00</span>  L<span style="color:${green}">2.07</span>  C<span style="color:${green}">2.88</span> <span style="color:${green}">+0.74 (+34.58%)</span></div>
<div class="t" style="left:10px;top:34px">Vol  <span style="color:${green}">167.59 M</span></div>
<div class="t" style="left:10px;top:58px;font-size:12.5px">BB <span class="g">20 close 2</span>  <span style="color:${bbRed}">2.40</span>  <span style="color:${bbTeal}">3.07</span>  <span style="color:${bbSoft}">1.73</span></div>
<div class="t" style="left:10px;top:82px">MA <span class="g">50 close</span>  <span style="color:${maBlue}">2.16</span></div>
<div class="t" style="left:10px;top:106px">MA <span class="g">200 close</span>  <span style="color:${maBlue}">1.73</span></div>
<div style="position:absolute;left:10px;top:128px;width:28px;height:20px;box-sizing:border-box;border:1px solid #e0e3eb;border-radius:3px;background:#fff">
 <svg width="26" height="18" viewBox="0 0 26 18"><path d="M9 11 L13 7 L17 11" fill="none" stroke="#131722" stroke-width="1.6"/></svg></div>
<div class="t" style="left:10px;top:795px">RSI <span class="g">14 close</span>  <span style="color:#9c27b0">57.36</span></div>
<div class="t" style="left:10px;top:1188px;font-size:12.4px">MACD <span class="g">12 26 close 9</span>  <span style="color:#ff0a78">\u22120.0128</span>  <span style="color:#2196f3">\u22120.0527</span>  <span style="color:#ff6d00">\u22120.0399</span></div>
<svg style="position:absolute;left:14px;top:1522px" width="34" height="34" viewBox="0 0 34 34">
 <circle cx="17" cy="17" r="16" fill="#fff" stroke="#eceef2" stroke-width="1.2"/>
 <g transform="translate(5.5,10) scale(.64)"><path d="M14 22H7V11H0V4h14v18zM28 22h-8l7.5-18h8L28 22z" fill="#131722"/><circle cx="20" cy="8" r="4" fill="#131722"/></g></svg>
<svg style="position:absolute;left:1876px;top:1576px" width="18" height="18" viewBox="0 0 18 18">
 <path d="M5 2.5h8l4 6.5-4 6.5H5L1 9z" fill="none" stroke="#131722" stroke-width="1.1"/><circle cx="9" cy="9" r="2.4" fill="none" stroke="#131722" stroke-width="1.1"/></svg>`;
root.insertAdjacentHTML("beforeend",html);
</script></body></html>
